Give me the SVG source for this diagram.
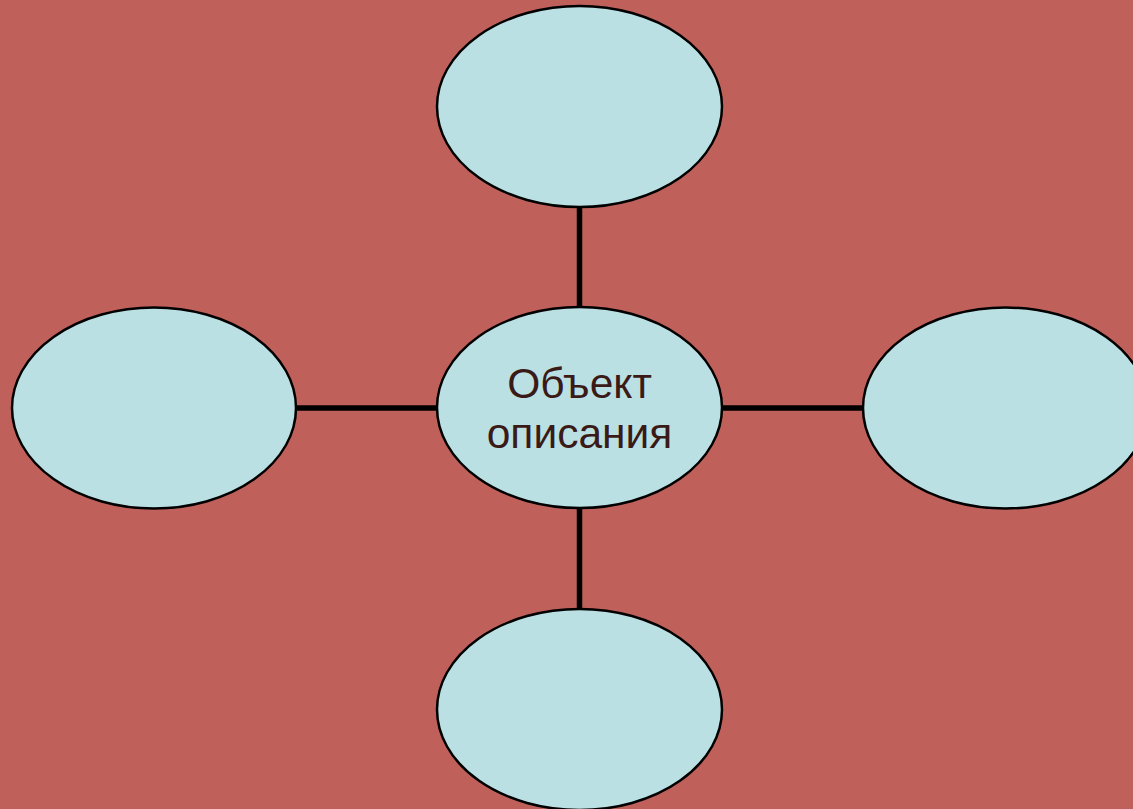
<svg xmlns="http://www.w3.org/2000/svg" width="1133" height="809" viewBox="0 0 1133 809">
<style>
.node{fill:#BBE0E3;stroke:#000;stroke-width:2.5}
.conn{stroke:#000;stroke-width:5.5;fill:none}
.label{font-family:"Liberation Sans",Arial,sans-serif;font-size:42.5px;fill:#3A1A16;text-anchor:middle}
</style>
<rect width="1133" height="809" fill="#C0605A"/>
<g id="connectors">
<line class="conn" x1="579.5" y1="207" x2="579.5" y2="307"/>
<line class="conn" x1="579.5" y1="508" x2="579.5" y2="609"/>
<line class="conn" x1="296" y1="408" x2="437" y2="408"/>
<line class="conn" x1="722" y1="408" x2="863" y2="408"/>
</g>
<g id="node-top"><ellipse class="node" cx="579.5" cy="106.5" rx="142.5" ry="100.5"/></g>
<g id="node-left"><ellipse class="node" cx="154" cy="408" rx="142" ry="100.5"/></g>
<g id="node-right"><ellipse class="node" cx="1005.5" cy="408" rx="142.5" ry="100.5"/></g>
<g id="node-bottom"><ellipse class="node" cx="579.5" cy="709.5" rx="142.5" ry="100.5"/></g>
<g id="node-center"><ellipse class="node" cx="579.5" cy="407.5" rx="142.5" ry="100.5"/>
<text class="label" x="579.5" y="398">Объект</text>
<text class="label" x="579.5" y="448">описания</text>
</g>
</svg>
